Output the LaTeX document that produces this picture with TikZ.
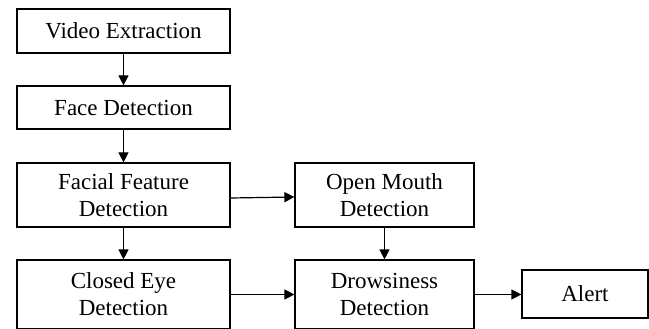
\documentclass[tikz,border=0pt]{standalone}
\usepackage{fontspec}
\setmainfont{Liberation Serif}
\newfontfamily\tnr{Liberation Serif}
\usetikzlibrary{arrows.meta}
\begin{document}
\begin{tikzpicture}[x=1pt,y=-1pt,
  box/.style={draw, line width=1.2pt, align=center, inner sep=0pt,
    font=\tnr\fontsize{23}{27}\selectfont},
  arr/.style={line width=1.2pt, -{Triangle[length=10pt,width=10pt]}}]
\useasboundingbox (0,0) rectangle (649,329);
\node[box, minimum width=213pt, minimum height=44pt] (ve) at (123.5,31) {Video Extraction};
\node[box, minimum width=213pt, minimum height=43pt] (fd) at (123.5,107.5) {Face Detection};
\node[box, minimum width=213pt, minimum height=64pt] (ff) at (123.5,195) {Facial Feature\\Detection};
\node[box, minimum width=213pt, minimum height=69pt] (ce) at (123.5,294.5) {Closed Eye\\Detection};
\node[box, minimum width=179pt, minimum height=64pt] (om) at (384.5,195) {Open Mouth\\Detection};
\node[box, minimum width=179pt, minimum height=69pt] (dd) at (384.5,294.5) {Drowsiness\\Detection};
\node[box, minimum width=126pt, minimum height=48pt] (al) at (585,294) {Alert};
\draw[arr] (ve) -- (fd);
\draw[arr] (fd) -- (ff);
\draw[arr] (ff) -- (ce);
\draw[arr] ([yshift=-3pt]ff.east) -- ([yshift=-2pt]om.west);
\draw[arr] (om) -- (dd);
\draw[arr] (ce) -- (dd);
\draw[arr] (dd.east) -- (dd.east -| al.west);
\end{tikzpicture}
\end{document}
